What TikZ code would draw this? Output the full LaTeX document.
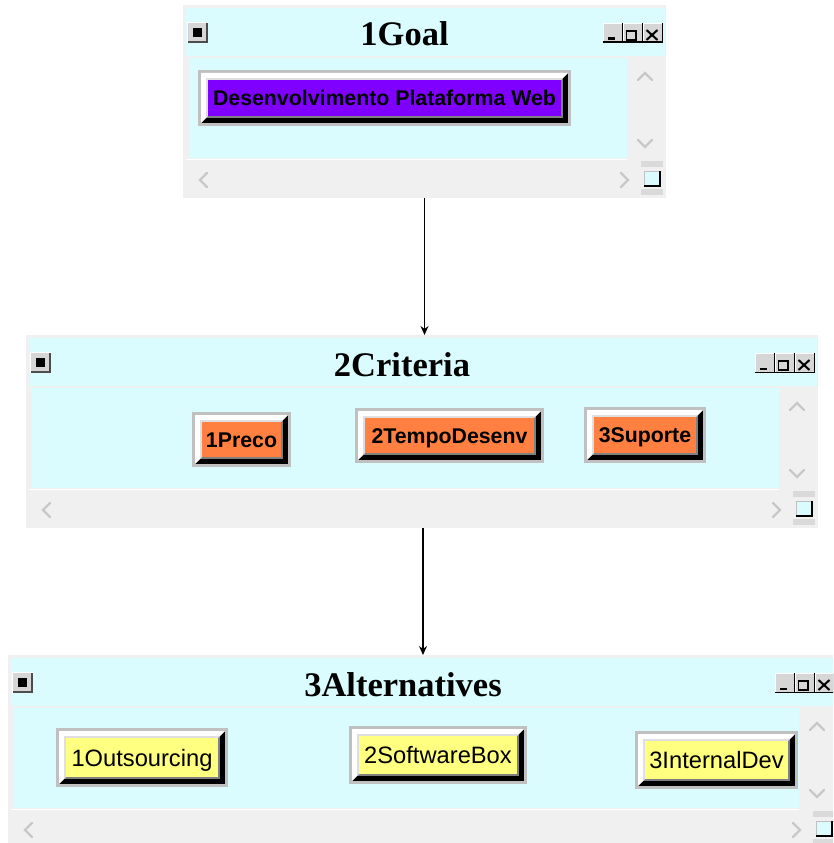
\documentclass[tikz,border=0pt]{standalone}
\usepackage{fontspec}
\setmainfont{Liberation Sans}
\newfontfamily\wintitlefont{Liberation Serif}
\usetikzlibrary{arrows.meta,calc,fit}

\definecolor{winbg}{RGB}{240,240,240}
\definecolor{panecyan}{RGB}{219,252,255}
\definecolor{bevgray}{RGB}{192,192,192}
\definecolor{bevdark}{RGB}{128,128,128}
\definecolor{bevlight}{RGB}{223,223,223}
\definecolor{btnface}{RGB}{214,214,214}
\definecolor{chevgray}{RGB}{200,200,200}
\definecolor{gripgray}{RGB}{218,218,218}
\definecolor{goalfill}{RGB}{128,0,255}
\definecolor{critfill}{RGB}{255,128,64}
\definecolor{altfill}{RGB}{255,255,128}

\tikzset{
  % raised 3D button with a grey rim and a coloured face
  bevel/.style={rectangle, inner sep=0pt, outer sep=0pt, fill=bevgray,
    path picture={
      \fill[black] let \p1=(path picture bounding box.south west),
                       \p2=(path picture bounding box.north east) in
        (\x1+3pt,\y1+3pt) rectangle (\x2-3pt,\y2-3pt);
      \fill[white] let \p1=(path picture bounding box.south west),
                       \p2=(path picture bounding box.north east) in
        (\x1+3pt,\y1+3pt) -- (\x1+3pt,\y2-3pt) -- (\x2-3pt,\y2-3pt) --
        (\x2-8pt,\y2-8pt) -- (\x1+8pt,\y2-8pt) -- (\x1+8pt,\y1+8pt) -- cycle;
      \fill[bevdark] let \p1=(path picture bounding box.south west),
                         \p2=(path picture bounding box.north east) in
        (\x1+8pt,\y1+8pt) rectangle (\x2-8pt,\y2-8pt);
      \fill[bevlight] let \p1=(path picture bounding box.south west),
                          \p2=(path picture bounding box.north east) in
        (\x1+8pt,\y1+8pt) -- (\x1+8pt,\y2-8pt) -- (\x2-8pt,\y2-8pt) --
        (\x2-10pt,\y2-10pt) -- (\x1+10pt,\y2-10pt) -- (\x1+10pt,\y1+10pt) -- cycle;
      \fill[#1] let \p1=(path picture bounding box.south west),
                    \p2=(path picture bounding box.north east) in
        (\x1+10pt,\y1+10pt) rectangle (\x2-10pt,\y2-10pt);
    }},
  boldlbl/.style={font=\bfseries\fontsize{21.3}{24}\selectfont,
    text height=15.3pt, text depth=0pt},
  plainlbl/.style={font=\fontsize{23.7}{26}\selectfont,
    text height=17pt, text depth=0pt},
  wintitle/.style={font=\wintitlefont\bfseries\fontsize{34.5}{38}\selectfont,
    anchor=base, inner sep=0pt},
  chev/.style={draw=chevgray, line width=2.4pt, line cap=round, line join=miter},
  conn/.style={-{Stealth[length=9pt,width=8pt]}, line width=1.3pt, black},
}

% a child window: x0, y0, x1, y1, node name, caption
\newcommand\appwin[6]{%
  \node[fit={(#1,#2) (#3,#4)}, inner sep=0pt, outer sep=0pt, fill=winbg] (#5) {};
  % caption bar and client area
  \fill[panecyan] ({#1+3},{#2+3}) rectangle ({#3-1},{#2+51});
  \fill[panecyan] ({#1+6},{#2+53}) rectangle ({#3-39},{#2+153});
  \draw[white, line width=1pt] ({#1+3},{#2+154.5}) -- ({#3-39},{#2+154.5});
  % system menu box
  \fill[white] ({#1+4},{#2+17}) rectangle ({#1+25},{#2+38});
  \fill[black!70] ({#1+5},{#2+18}) rectangle ({#1+25},{#2+38});
  \fill[btnface] ({#1+5},{#2+18}) rectangle ({#1+23},{#2+36});
  \fill[black] ({#1+10},{#2+23}) rectangle ({#1+19},{#2+32});
  % minimise / maximise / close boxes
  \foreach \k in {0,1,2}{
    \fill[black] ({#3-63+20*\k},{#2+18}) rectangle ({#3-43+20*\k},{#2+38});
    \fill[white] ({#3-63+20*\k},{#2+18}) rectangle ({#3-44.5+20*\k},{#2+36.5});
    \fill[btnface] ({#3-62+20*\k},{#2+19}) rectangle ({#3-44.5+20*\k},{#2+36.5});
  }
  \fill[black] ({#3-58},{#2+32.5}) rectangle ({#3-51},{#2+35});
  \draw[black, line width=1.3pt] ({#3-39.5},{#2+26}) rectangle ({#3-30},{#2+35});
  \draw[black, line width=2.2pt] ({#3-39.5},{#2+26}) -- ({#3-30},{#2+26});
  \draw[black, line width=2pt] ({#3-19.5},{#2+25}) -- ({#3-8.5},{#2+35})
                               ({#3-19.5},{#2+35}) -- ({#3-8.5},{#2+25});
  % scroll arrows
  \draw[chev] ({#3-28},{#2+75}) -- ({#3-21},{#2+68}) -- ({#3-14},{#2+75});
  \draw[chev] ({#3-28},{#2+135}) -- ({#3-21},{#2+142}) -- ({#3-14},{#2+135});
  \draw[chev] ({#1+24},{#2+168}) -- ({#1+17},{#2+175}) -- ({#1+24},{#2+182});
  \draw[chev] ({#3-45},{#2+168}) -- ({#3-38},{#2+175}) -- ({#3-45},{#2+182});
  % size grip
  \fill[gripgray] ({#3-25},{#2+156}) rectangle ({#3-3},{#2+162});
  \fill[gripgray] ({#3-25},{#2+184}) rectangle ({#3-3},{#2+190});
  \fill[black] ({#3-22},{#2+166}) rectangle ({#3-5},{#2+182});
  \fill[bevgray] ({#3-22},{#2+166}) rectangle ({#3-7},{#2+180});
  \fill[panecyan] ({#3-21},{#2+167}) rectangle ({#3-7},{#2+180});
  % caption
  \node[wintitle] (#5-caption) at ({(#1+#3)/2-20},{#2+41}) {#6};
}

\begin{document}
\begin{tikzpicture}[x=1pt, y=-1pt]
  \useasboundingbox (0,0) rectangle (833,843);
  \clip (0,0) rectangle (833,843);
  \fill[white] (0,0) rectangle (833,843);

  \appwin{183}{5}{666}{198}{goalwin}{1Goal}
  \appwin{26}{335}{818}{528}{critwin}{2Criteria}
  \appwin{8}{655}{838}{848}{altwin}{3Alternatives}

  % goal
  \node[bevel=goalfill, boldlbl, minimum width=373pt, minimum height=56pt]
    (goal) at (384.5,98) {Desenvolvimento Plataforma Web};

  % criteria
  \node[bevel=critfill, boldlbl, minimum width=99pt, minimum height=55pt]
    (preco) at (241.5,439.5) {1Preco};
  \node[bevel=critfill, boldlbl, minimum width=189pt, minimum height=55pt]
    (tempo) at (449.5,435.5) {2TempoDesenv};
  \node[bevel=critfill, boldlbl, minimum width=122pt, minimum height=56pt]
    (suporte) at (645,435) {3Suporte};

  % alternatives
  \node[bevel=altfill, plainlbl, minimum width=172pt, minimum height=59pt]
    (outs) at (142,757.5) {1Outsourcing};
  \node[bevel=altfill, plainlbl, minimum width=178pt, minimum height=58pt]
    (swbox) at (438,755) {2SoftwareBox};
  \node[bevel=altfill, plainlbl, minimum width=163pt, minimum height=58pt]
    (intdev) at (716.5,760) {3InternalDev};

  % hierarchy links
  \draw[conn] (goalwin.south) -- (goalwin.south |- critwin.north);
  \draw[conn] ([xshift=1pt]critwin.south) -- ([xshift=1pt]critwin.south |- altwin.north);
\end{tikzpicture}
\end{document}
